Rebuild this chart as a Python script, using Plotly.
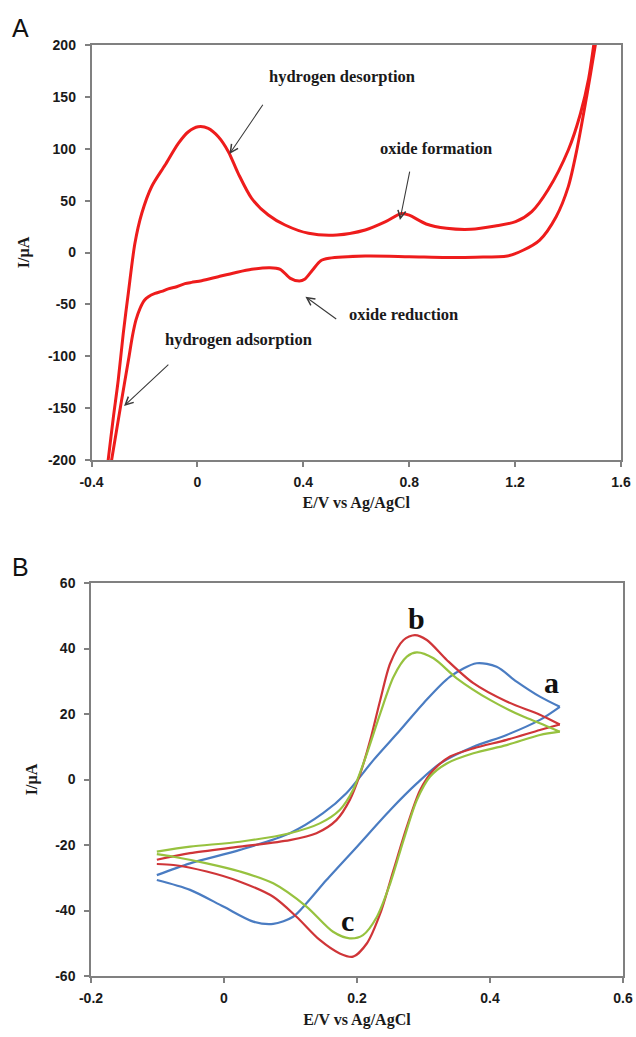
import plotly.graph_objects as go

# ---------------- Panel A data (Pt electrode CV) ----------------
A_anodic_E = [-0.345, -0.337, -0.318, -0.299, -0.280, -0.261, -0.236, -0.210, -0.173, -0.122,
              -0.072, -0.034, 0.003, 0.041, 0.079, 0.117, 0.154, 0.205, 0.268, 0.331,
              0.420, 0.527, 0.634, 0.711, 0.770, 0.800, 0.864, 0.941, 1.033, 1.125,
              1.202, 1.263, 1.324, 1.401, 1.447, 1.478, 1.497, 1.505]
A_anodic_I = [-217, -200, -160, -122.9, -77.9, -39.3, 8.9, 37.8, 63.4, 84.3,
              105.2, 116.4, 121.2, 119.7, 111.6, 97.2, 76.3, 52.2, 36.1, 26.5,
              18.5, 16.9, 21.7, 29.7, 37.5, 36.0, 27.5, 23.3, 22.3, 25.5,
              29.7, 39.4, 60.2, 98.8, 134, 168, 200, 215]

A_cathodic_E = [1.512, 1.503, 1.470, 1.434, 1.401, 1.355, 1.293, 1.232, 1.171, 1.050,
                0.941, 0.800, 0.634, 0.497, 0.466, 0.435, 0.405, 0.385, 0.351, 0.313,
                0.274, 0.205, 0.142, 0.079, 0.016, -0.022, -0.047, -0.085, -0.110, -0.135,
                -0.160, -0.185, -0.200, -0.217, -0.232, -0.245, -0.260, -0.290, -0.324, -0.330]
A_cathodic_I = [215, 200, 150, 100, 63.5, 34.5, 12.0, 2.4, -3.4, -4.5,
                -4.7, -4.0, -3.4, -5.6, -7.9, -16.9, -25.9, -27.5, -24.9, -16.2,
                -14.6, -16.2, -19.5, -23.3, -27.2, -28.8, -30.0, -33.5, -35.0, -37.5,
                -39.5, -42.6, -46.0, -54.0, -65.0, -80.0, -103.0, -148.0, -200, -209]

A_xticks = [-0.4, 0, 0.4, 0.8, 1.2, 1.6]
A_xticklabels = ["-0.4", "0", "0.4", "0.8", "1.2", "1.6"]
A_yticks = [-200, -150, -100, -50, 0, 50, 100, 150, 200]
A_yticklabels = ["-200", "-150", "-100", "-50", "0", "50", "100", "150", "200"]

A_labels = ["hydrogen desorption", "oxide formation", "oxide reduction", "hydrogen adsorption"]
A_label_E = [0.548, 0.900, 0.779, 0.155]
A_label_I = [169.5, 100.4, -60.2, -84.3]
A_arrow_head_E = [0.121, 0.765, 0.408, -0.277]
A_arrow_head_I = [94.9, 31.3, -42.6, -148.0]
A_arrow_tail_E = [0.251, 0.803, 0.530, -0.104]
A_arrow_tail_I = [143.8, 79.5, -65.1, -106.8]

# ---------------- Panel B data (three CVs a, b, c) ----------------
a_anodic_E = [-0.101, -0.051, 0.024, 0.099, 0.149, 0.184, 0.225, 0.265, 0.300, 0.340,
              0.380, 0.410, 0.440, 0.475, 0.505]
a_anodic_I = [-29.2, -25.6, -21.5, -16.4, -10.3, -4.2, 6.0, 15.1, 23.3, 31.4,
              35.5, 34.4, 29.9, 25.3, 22.2]
a_cathodic_E = [0.505, 0.475, 0.425, 0.375, 0.325, 0.290, 0.250, 0.200, 0.154, 0.124,
                0.104, 0.074, 0.044, -0.001, -0.051, -0.101]
a_cathodic_I = [22.2, 18.2, 13.6, 10.0, 4.9, -1.2, -9.3, -20.5, -30.7, -37.8,
                -41.9, -44.1, -43.4, -38.8, -33.7, -30.7]

b_anodic_E = [-0.101, -0.051, 0.024, 0.099, 0.139, 0.169, 0.189, 0.205, 0.220, 0.235,
              0.250, 0.270, 0.287, 0.305, 0.335, 0.375, 0.425, 0.475, 0.505]
b_anodic_I = [-24.5, -22.5, -20.5, -18.5, -16.4, -12.4, -6.3, 1.9, 12.1, 24.3,
              35.5, 42.6, 44.1, 42.6, 36.5, 29.4, 23.8, 19.8, 16.8]
b_cathodic_E = [0.505, 0.475, 0.425, 0.375, 0.340, 0.315, 0.295, 0.275, 0.255, 0.235,
                0.215, 0.194, 0.174, 0.144, 0.109, 0.074, 0.024, -0.026, -0.076, -0.101]
b_cathodic_I = [16.8, 15.1, 12.1, 9.5, 7.0, 2.9, -3.2, -14.4, -27.6, -40.9,
                -50.0, -54.1, -53.1, -49.0, -41.9, -35.8, -31.2, -28.1, -26.1, -25.8]

c_anodic_E = [-0.101, -0.051, 0.024, 0.099, 0.144, 0.174, 0.194, 0.215, 0.235, 0.255,
              0.275, 0.290, 0.315, 0.350, 0.400, 0.450, 0.475, 0.505]
c_anodic_I = [-22.0, -20.5, -19.0, -16.4, -13.4, -9.3, -3.2, 8.0, 20.2, 31.4,
              37.5, 38.8, 37.0, 30.9, 24.3, 19.2, 17.2, 14.6]
c_cathodic_E = [0.505, 0.475, 0.425, 0.375, 0.335, 0.310, 0.290, 0.270, 0.250, 0.230,
                0.209, 0.189, 0.164, 0.124, 0.074, 0.024, -0.026, -0.076, -0.101]
c_cathodic_I = [14.6, 13.6, 10.5, 8.0, 4.9, 0.9, -6.3, -18.5, -31.7, -41.9,
                -47.5, -48.5, -46.5, -38.8, -31.7, -28.1, -25.6, -23.6, -22.8]

B_xticks = [-0.2, 0, 0.2, 0.4, 0.6]
B_xticklabels = ["-0.2", "0", "0.2", "0.4", "0.6"]
B_yticks = [-60, -40, -20, 0, 20, 40, 60]
B_yticklabels = ["-60", "-40", "-20", "0", "20", "40", "60"]

B_labels = ["a", "b", "c"]
B_label_E = [0.4925, 0.290, 0.185]
B_label_I = [29.6, 49.3, -43.0]

# ---------------- styles ----------------
SERIF = "Liberation Serif, Times New Roman, serif"
SANS = "Liberation Sans, Arial, sans-serif"
AXIS_GRAY = "#808080"
TICK_FONT = dict(family=SANS, size=14, color="#1a1a1a", weight="bold")
TITLE_FONT = dict(family=SERIF, size=16, color="#1a1a1a", weight="bold")
RED_A = "#ee1c1c"
COLORS_B = {"a": "#4a7cc2", "b": "#cf3538", "c": "#97c23f"}

fig = go.Figure()

for E, I in [(A_anodic_E, A_anodic_I), (A_cathodic_E, A_cathodic_I)]:
    fig.add_trace(go.Scatter(x=E, y=I, mode="lines", xaxis="x", yaxis="y",
                             line=dict(color=RED_A, width=3, shape="spline", smoothing=0.8),
                             showlegend=False, hoverinfo="skip"))

for key, branches in [("a", [(a_anodic_E, a_anodic_I), (a_cathodic_E, a_cathodic_I)]),
                      ("b", [(b_anodic_E, b_anodic_I), (b_cathodic_E, b_cathodic_I)]),
                      ("c", [(c_anodic_E, c_anodic_I), (c_cathodic_E, c_cathodic_I)])]:
    for E, I in branches:
        fig.add_trace(go.Scatter(x=E, y=I, mode="lines", xaxis="x2", yaxis="y2",
                                 line=dict(color=COLORS_B[key], width=2.2, shape="spline", smoothing=0.8),
                                 showlegend=False, hoverinfo="skip"))

def axis(domain, anchor, rng, tickvals, ticktext, title, standoff, lblstand):
    return dict(domain=domain, anchor=anchor, range=rng, tickmode="array",
                tickvals=tickvals, ticktext=ticktext, ticks="outside", ticklen=5,
                tickwidth=1.5, tickcolor=AXIS_GRAY, showline=True, linecolor=AXIS_GRAY,
                linewidth=1.5, mirror=True, showgrid=False, zeroline=False,
                tickfont=TICK_FONT, automargin=False, ticklabelstandoff=lblstand,
                title=dict(text=title, font=TITLE_FONT, standoff=standoff))

annotations = []
for txt, e, i in zip(A_labels, A_label_E, A_label_I):
    annotations.append(dict(x=e, y=i, xref="x", yref="y", text=txt, showarrow=False,
                            font=dict(family=SERIF, size=16.5, color="#1a1a1a", weight="bold")))
for he, hi, te, ti in zip(A_arrow_head_E, A_arrow_head_I, A_arrow_tail_E, A_arrow_tail_I):
    annotations.append(dict(x=he, y=hi, xref="x", yref="y", ax=te, ay=ti, axref="x", ayref="y",
                            text="", showarrow=True, arrowhead=5, arrowsize=1.4,
                            arrowwidth=1.1, arrowcolor="#3a3a3a", standoff=0))
for txt, e, i in zip(B_labels, B_label_E, B_label_I):
    annotations.append(dict(x=e, y=i, xref="x2", yref="y2", text=txt, showarrow=False,
                            font=dict(family=SERIF, size=30, color="#111111", weight="bold")))
for letter, ypix in [("A", 28), ("B", 567)]:
    annotations.append(dict(x=20 / 636, y=1 - ypix / 1037, xref="paper", yref="paper",
                            text=letter, showarrow=False, xanchor="center", yanchor="middle",
                            font=dict(family=SANS, size=25, color="#111111")))

fig.update_layout(
    width=636, height=1037, autosize=False,
    margin=dict(l=0, r=0, t=0, b=0),
    paper_bgcolor="white", plot_bgcolor="white",
    xaxis=axis([91.5 / 636, 621 / 636], "y", [-0.4, 1.6], A_xticks, A_xticklabels,
               "E/V vs Ag/AgCl", 8, 3),
    yaxis=axis([1 - 460 / 1037, 1 - 45 / 1037], "x", [-200, 200], A_yticks, A_yticklabels,
               "I/µA", 14, 6),
    xaxis2=axis([91 / 636, 623 / 636], "y2", [-0.2, 0.6], B_xticks, B_xticklabels,
                "E/V vs Ag/AgCl", 9, 3),
    yaxis2=axis([1 - 976 / 1037, 1 - 583 / 1037], "x2", [-60, 60], B_yticks, B_yticklabels,
                "I/µA", 14, 6),
    annotations=annotations,
)

fig.write_html("out.html", config={"displayModeBar": False},
               post_script="document.body.style.margin='0';")
